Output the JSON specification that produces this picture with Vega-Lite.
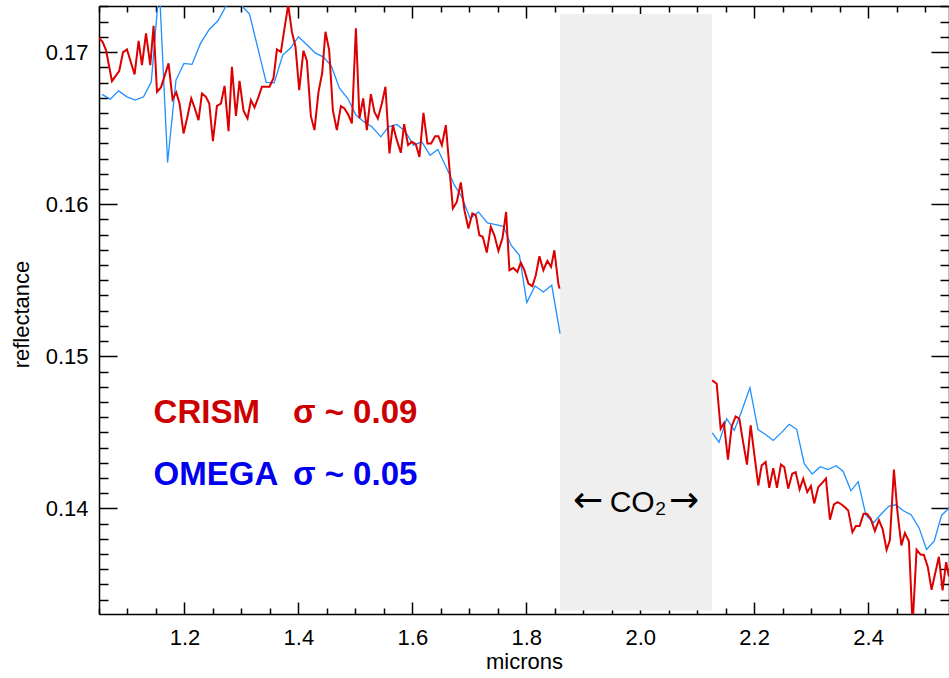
{
  "$schema": "https://vega.github.io/schema/vega-lite/v6.json",
  "width": 850,
  "height": 608,
  "autosize": {"type": "none"},
  "padding": {"left": 99, "top": 6, "right": 0, "bottom": 64},
  "background": "white",
  "config": {"view": {"stroke": null}, "axis": {"grid": false}},
  "datasets": {
    "band": [{"start": 1.859, "end": 2.126, "lo": 0.13329, "hi": 0.1725}],
    "crism1": [
      {"x":1.0495,"y":0.17094},{"x":1.0563,"y":0.17068},{"x":1.0623,"y":0.17013},{"x":1.0728,"y":0.16809},{"x":1.0856,"y":0.16877},{"x":1.0921,"y":0.16998},{"x":1.0991,"y":0.17018},{"x":1.1125,"y":0.16853},{"x":1.1195,"y":0.17074},{"x":1.1254,"y":0.16914},{"x":1.1325,"y":0.17123},{"x":1.14,"y":0.16914},{"x":1.1458,"y":0.17173},{"x":1.1518,"y":0.16739},{"x":1.1588,"y":0.16768},{"x":1.1721,"y":0.16926},{"x":1.1791,"y":0.16689},{"x":1.1856,"y":0.16735},{"x":1.1914,"y":0.16662},{"x":1.1984,"y":0.16465},{"x":1.2049,"y":0.1657},{"x":1.2119,"y":0.16695},{"x":1.2177,"y":0.16636},{"x":1.2247,"y":0.16553},{"x":1.2307,"y":0.16728},{"x":1.2377,"y":0.16706},{"x":1.2435,"y":0.16662},{"x":1.25,"y":0.16414},{"x":1.257,"y":0.16647},{"x":1.264,"y":0.16662},{"x":1.2704,"y":0.16778},{"x":1.2774,"y":0.1648},{"x":1.2833,"y":0.16903},{"x":1.2904,"y":0.16581},{"x":1.2967,"y":0.16811},{"x":1.3037,"y":0.16614},{"x":1.3107,"y":0.16564},{"x":1.3167,"y":0.16684},{"x":1.323,"y":0.16636},{"x":1.33,"y":0.16706},{"x":1.336,"y":0.16772},{"x":1.3426,"y":0.16772},{"x":1.3493,"y":0.16772},{"x":1.3563,"y":0.16829},{"x":1.3623,"y":0.17018},{"x":1.3693,"y":0.17002},{"x":1.3756,"y":0.17156},{"x":1.3821,"y":0.1731},{"x":1.3886,"y":0.17134},{"x":1.3949,"y":0.17035},{"x":1.4014,"y":0.1675},{"x":1.4089,"y":0.17009},{"x":1.4149,"y":0.16943},{"x":1.4219,"y":0.16579},{"x":1.4282,"y":0.16487},{"x":1.4353,"y":0.16739},{"x":1.4418,"y":0.16864},{"x":1.4475,"y":0.17134},{"x":1.454,"y":0.17013},{"x":1.4605,"y":0.16618},{"x":1.4675,"y":0.16487},{"x":1.4746,"y":0.16645},{"x":1.4809,"y":0.1663},{"x":1.4879,"y":0.16586},{"x":1.4939,"y":0.16531},{"x":1.5009,"y":0.17156},{"x":1.5072,"y":0.16564},{"x":1.5137,"y":0.16695},{"x":1.5202,"y":0.16487},{"x":1.5272,"y":0.16724},{"x":1.5335,"y":0.16607},{"x":1.5395,"y":0.16564},{"x":1.5465,"y":0.16662},{"x":1.5528,"y":0.16772},{"x":1.5598,"y":0.16334},{"x":1.5658,"y":0.1652},{"x":1.5728,"y":0.16421},{"x":1.5798,"y":0.16338},{"x":1.5856,"y":0.16526},{"x":1.5926,"y":0.16388},{"x":1.5991,"y":0.1641},{"x":1.6061,"y":0.16395},{"x":1.6125,"y":0.16311},{"x":1.6195,"y":0.16601},{"x":1.6265,"y":0.16399},{"x":1.633,"y":0.16399},{"x":1.64,"y":0.16447},{"x":1.6458,"y":0.16447},{"x":1.6518,"y":0.16388},{"x":1.6588,"y":0.1652},{"x":1.6711,"y":0.15972},{"x":1.6781,"y":0.16015},{"x":1.6851,"y":0.16143},{"x":1.6914,"y":0.15961},{"x":1.6984,"y":0.1584},{"x":1.7054,"y":0.15939},{"x":1.7114,"y":0.15928},{"x":1.7177,"y":0.15796},{"x":1.7237,"y":0.15785},{"x":1.7307,"y":0.15682},{"x":1.7377,"y":0.15851},{"x":1.744,"y":0.15796},{"x":1.7511,"y":0.15693},{"x":1.7581,"y":0.15774},{"x":1.7646,"y":0.15949},{"x":1.7704,"y":0.15566},{"x":1.7774,"y":0.15581},{"x":1.7844,"y":0.15555},{"x":1.7904,"y":0.15616},{"x":1.7967,"y":0.15566},{"x":1.8037,"y":0.15478},{"x":1.8107,"y":0.15461},{"x":1.8167,"y":0.15533},{"x":1.823,"y":0.15658},{"x":1.83,"y":0.15566},{"x":1.837,"y":0.15627},{"x":1.8435,"y":0.15588},{"x":1.8493,"y":0.15697},{"x":1.8563,"y":0.15478},{"x":1.8584,"y":0.15445}
    ],
    "crism2": [
      {"x":2.1265,"y":0.14842},{"x":2.1342,"y":0.1482},{"x":2.1412,"y":0.14524},{"x":2.147,"y":0.14561},{"x":2.154,"y":0.1432},{"x":2.1605,"y":0.14539},{"x":2.1675,"y":0.14605},{"x":2.1739,"y":0.1459},{"x":2.1804,"y":0.14441},{"x":2.1874,"y":0.14288},{"x":2.1939,"y":0.14546},{"x":2.2005,"y":0.14349},{"x":2.2072,"y":0.14151},{"x":2.2132,"y":0.14283},{"x":2.2202,"y":0.14305},{"x":2.2265,"y":0.14136},{"x":2.2335,"y":0.14265},{"x":2.24,"y":0.14136},{"x":2.247,"y":0.14288},{"x":2.2528,"y":0.14272},{"x":2.2598,"y":0.1413},{"x":2.2668,"y":0.14228},{"x":2.2728,"y":0.14239},{"x":2.2798,"y":0.14125},{"x":2.2861,"y":0.14195},{"x":2.2932,"y":0.14107},{"x":2.2996,"y":0.14147},{"x":2.3054,"y":0.14033},{"x":2.3125,"y":0.1414},{"x":2.3195,"y":0.14168},{"x":2.326,"y":0.14197},{"x":2.333,"y":0.13926},{"x":2.34,"y":0.14026},{"x":2.3465,"y":0.14041},{"x":2.3535,"y":0.14026},{"x":2.3593,"y":0.14007},{"x":2.3651,"y":0.13987},{"x":2.3725,"y":0.13844},{"x":2.3786,"y":0.13885},{"x":2.3851,"y":0.13885},{"x":2.3921,"y":0.13965},{"x":2.3979,"y":0.13965},{"x":2.4046,"y":0.13932},{"x":2.4119,"y":0.13852},{"x":2.419,"y":0.13923},{"x":2.4254,"y":0.13866},{"x":2.4325,"y":0.13728},{"x":2.4382,"y":0.13791},{"x":2.4453,"y":0.14255},{"x":2.4514,"y":0.1398},{"x":2.4584,"y":0.13757},{"x":2.4646,"y":0.13838},{"x":2.4716,"y":0.13784},{"x":2.4781,"y":0.1323},{"x":2.4851,"y":0.13729},{"x":2.4921,"y":0.13697},{"x":2.4979,"y":0.13694},{"x":2.5049,"y":0.13614},{"x":2.5114,"y":0.13465},{"x":2.5177,"y":0.13572},{"x":2.5242,"y":0.13682},{"x":2.5307,"y":0.13461},{"x":2.537,"y":0.13647},{"x":2.5418,"y":0.13553}
    ],
    "omega1": [
      {"x":1.0553,"y":0.16722},{"x":1.0698,"y":0.16691},{"x":1.0844,"y":0.16745},{"x":1.0991,"y":0.16706},{"x":1.1137,"y":0.16684},{"x":1.1282,"y":0.16706},{"x":1.1418,"y":0.16805},{"x":1.1558,"y":0.17434},{"x":1.1704,"y":0.16274},{"x":1.1851,"y":0.16816},{"x":1.1991,"y":0.16926},{"x":1.2132,"y":0.16919},{"x":1.2282,"y":0.17057},{"x":1.2435,"y":0.17149},{"x":1.2588,"y":0.17206},{"x":1.2739,"y":0.17309},{"x":1.2882,"y":0.17362},{"x":1.3023,"y":0.17298},{"x":1.3142,"y":0.1725},{"x":1.3435,"y":0.16801},{"x":1.3575,"y":0.16798},{"x":1.3725,"y":0.1698},{"x":1.3865,"y":0.17028},{"x":1.4002,"y":0.17101},{"x":1.4149,"y":0.17048},{"x":1.4295,"y":0.16995},{"x":1.4435,"y":0.16969},{"x":1.4575,"y":0.16911},{"x":1.4721,"y":0.16763},{"x":1.4868,"y":0.16695},{"x":1.5009,"y":0.16586},{"x":1.5154,"y":0.16541},{"x":1.529,"y":0.16509},{"x":1.5447,"y":0.16443},{"x":1.5581,"y":0.16509},{"x":1.5728,"y":0.16524},{"x":1.5874,"y":0.1648},{"x":1.6019,"y":0.16388},{"x":1.6167,"y":0.1641},{"x":1.6312,"y":0.16322},{"x":1.6447,"y":0.1636},{"x":1.6593,"y":0.16245},{"x":1.6739,"y":0.16125},{"x":1.6868,"y":0.16048},{"x":1.7014,"y":0.15906},{"x":1.716,"y":0.15949},{"x":1.7318,"y":0.15877},{"x":1.7465,"y":0.15866},{"x":1.7598,"y":0.15855},{"x":1.7733,"y":0.1573},{"x":1.7879,"y":0.15664},{"x":1.8009,"y":0.15353},{"x":1.8154,"y":0.15463},{"x":1.83,"y":0.15423},{"x":1.8447,"y":0.15467},{"x":1.8593,"y":0.15149}
    ],
    "omega2": [
      {"x":2.1265,"y":0.14497},{"x":2.1383,"y":0.14434},{"x":2.1518,"y":0.1459},{"x":2.1651,"y":0.14513},{"x":2.1791,"y":0.14651},{"x":2.1926,"y":0.14794},{"x":2.2067,"y":0.14518},{"x":2.2202,"y":0.14486},{"x":2.2335,"y":0.14447},{"x":2.2483,"y":0.145},{"x":2.2616,"y":0.14553},{"x":2.2746,"y":0.1452},{"x":2.2879,"y":0.14294},{"x":2.3019,"y":0.14226},{"x":2.316,"y":0.14274},{"x":2.3295,"y":0.14255},{"x":2.3439,"y":0.14281},{"x":2.3563,"y":0.14243},{"x":2.3698,"y":0.14116},{"x":2.3826,"y":0.14176},{"x":2.3961,"y":0.13956},{"x":2.4096,"y":0.13906},{"x":2.423,"y":0.13963},{"x":2.4368,"y":0.14016},{"x":2.4488,"y":0.14024},{"x":2.4619,"y":0.13985},{"x":2.4754,"y":0.13959},{"x":2.4895,"y":0.13872},{"x":2.5026,"y":0.1373},{"x":2.516,"y":0.13785},{"x":2.5289,"y":0.13954},{"x":2.5418,"y":0.14002}
    ],
    "labelsRed": [{"x":1.1458,"y":0.14564,"t":"CRISM"},{"x":1.3904,"y":0.14564,"t":"σ ~ 0.09"}],
    "labelsBlue": [{"x":1.1458,"y":0.14156,"t":"OMEGA"},{"x":1.3904,"y":0.14156,"t":"σ ~ 0.05"}],
    "labelsGas": [{"x":1.9961,"y":0.13976,"t":"CO₂"}],
    "arrowsGas": [{"x":1.9084,"y":0.13976,"t":"←"},{"x":2.0769,"y":0.13976,"t":"→"}]
  },
  "resolve": {"axis": {"x": "independent", "y": "independent"}},
  "layer": [
    {
      "data": {"name": "band"},
      "mark": {"type": "rect", "color": "#efefef"},
      "encoding": {
        "x": {"field": "start", "type": "quantitative",
          "scale": {"domain": [1.05, 2.542], "nice": false, "zero": false},
          "axis": {
            "orient": "bottom",
            "values": [1.05,1.1,1.15,1.2,1.25,1.3,1.35,1.4,1.45,1.5,1.55,1.6,1.65,1.7,1.75,1.8,1.85,1.9,1.95,2.0,2.05,2.1,2.15,2.2,2.25,2.3,2.35,2.4,2.45,2.5],
            "labelExpr": "abs(datum.value*5-round(datum.value*5))<0.001 ? format(datum.value,'.1f') : ''",
            "tickSize": {"condition": {"test": "abs(datum.value*5-round(datum.value*5))<0.001", "value": -12}, "value": -6},
            "tickColor": "black", "tickWidth": 1.5,
            "domainColor": "black", "domainWidth": 1.5,
            "labelFont": "Liberation Sans", "labelFontSize": 22, "labelColor": "black",
            "labelPadding": 25, "labelFlush": false, "labelOverlap": false, "labelBound": false,
            "title": "microns", "titleFont": "Liberation Sans", "titleFontSize": 22,
            "titleFontWeight": "normal", "titleColor": "black",
            "titleY": 54, "titleBaseline": "alphabetic"
          }
        },
        "x2": {"field": "end"},
        "y": {"field": "lo", "type": "quantitative",
          "scale": {"domain": [0.13306, 0.17303], "nice": false, "zero": false},
          "axis": {
            "orient": "left",
            "values": [0.134,0.135,0.136,0.137,0.138,0.139,0.14,0.141,0.142,0.143,0.144,0.145,0.146,0.147,0.148,0.149,0.15,0.151,0.152,0.153,0.154,0.155,0.156,0.157,0.158,0.159,0.16,0.161,0.162,0.163,0.164,0.165,0.166,0.167,0.168,0.169,0.17,0.171,0.172,0.173],
            "labelExpr": "abs(datum.value*100-round(datum.value*100))<0.01 ? format(datum.value,'.2f') : ''",
            "tickSize": {"condition": {"test": "abs(datum.value*100-round(datum.value*100))<0.01", "value": -18}, "value": -9},
            "tickColor": "black", "tickWidth": 1.5,
            "domainColor": "black", "domainWidth": 1.5,
            "labelFont": "Liberation Sans", "labelFontSize": 22, "labelColor": "black",
            "labelPadding": 29, "labelFlush": false, "labelOverlap": false, "labelBound": false,
            "title": "reflectance", "titleFont": "Liberation Sans", "titleFontSize": 22,
            "titleFontWeight": "normal", "titleColor": "black",
            "titleX": -71, "titleY": 308, "titleAngle": -90, "titleAlign": "center", "titleBaseline": "alphabetic"
          }
        },
        "y2": {"field": "hi"}
      }
    },
    {
      "data": {"name": "omega1"},
      "mark": {"type": "line", "color": "#1e90ff", "strokeWidth": 1.3, "clip": true},
      "encoding": {
        "x": {"field": "x", "type": "quantitative",
          "scale": {"domain": [1.05, 2.542], "nice": false, "zero": false},
          "axis": {
            "orient": "top",
            "values": [1.05,1.1,1.15,1.2,1.25,1.3,1.35,1.4,1.45,1.5,1.55,1.6,1.65,1.7,1.75,1.8,1.85,1.9,1.95,2.0,2.05,2.1,2.15,2.2,2.25,2.3,2.35,2.4,2.45,2.5],
            "labels": false,
            "tickSize": {"condition": {"test": "abs(datum.value*5-round(datum.value*5))<0.001", "value": -12}, "value": -6},
            "tickColor": "black", "tickWidth": 1.5,
            "domainColor": "black", "domainWidth": 1.5,
            "title": null
          }
        },
        "y": {"field": "y", "type": "quantitative",
          "scale": {"domain": [0.13306, 0.17303], "nice": false, "zero": false},
          "axis": {
            "orient": "right",
            "values": [0.134,0.135,0.136,0.137,0.138,0.139,0.14,0.141,0.142,0.143,0.144,0.145,0.146,0.147,0.148,0.149,0.15,0.151,0.152,0.153,0.154,0.155,0.156,0.157,0.158,0.159,0.16,0.161,0.162,0.163,0.164,0.165,0.166,0.167,0.168,0.169,0.17,0.171,0.172,0.173],
            "labels": false,
            "tickSize": {"condition": {"test": "abs(datum.value*100-round(datum.value*100))<0.01", "value": -18}, "value": -9},
            "tickColor": "black", "tickWidth": 1.5,
            "domainColor": "black", "domainWidth": 1.5,
            "title": null
          }
        }
      }
    },
    {
      "data": {"name": "omega2"},
      "mark": {"type": "line", "color": "#1e90ff", "strokeWidth": 1.3, "clip": true},
      "encoding": {
        "x": {"field": "x", "type": "quantitative", "scale": {"domain": [1.05, 2.542], "nice": false, "zero": false}, "axis": null},
        "y": {"field": "y", "type": "quantitative", "scale": {"domain": [0.13306, 0.17303], "nice": false, "zero": false}, "axis": null}
      }
    },
    {
      "data": {"name": "crism1"},
      "mark": {"type": "line", "color": "#dc0000", "strokeWidth": 2, "clip": true},
      "encoding": {
        "x": {"field": "x", "type": "quantitative", "scale": {"domain": [1.05, 2.542], "nice": false, "zero": false}, "axis": null},
        "y": {"field": "y", "type": "quantitative", "scale": {"domain": [0.13306, 0.17303], "nice": false, "zero": false}, "axis": null}
      }
    },
    {
      "data": {"name": "crism2"},
      "mark": {"type": "line", "color": "#dc0000", "strokeWidth": 2, "clip": true},
      "encoding": {
        "x": {"field": "x", "type": "quantitative", "scale": {"domain": [1.05, 2.542], "nice": false, "zero": false}, "axis": null},
        "y": {"field": "y", "type": "quantitative", "scale": {"domain": [0.13306, 0.17303], "nice": false, "zero": false}, "axis": null}
      }
    },
    {
      "data": {"name": "labelsRed"},
      "mark": {"type": "text", "color": "#cc0000", "font": "Liberation Sans", "fontWeight": "bold", "fontSize": 33, "align": "left", "baseline": "alphabetic"},
      "encoding": {
        "x": {"field": "x", "type": "quantitative", "axis": null},
        "y": {"field": "y", "type": "quantitative", "axis": null},
        "text": {"field": "t"}
      }
    },
    {
      "data": {"name": "labelsBlue"},
      "mark": {"type": "text", "color": "#0000ee", "font": "Liberation Sans", "fontWeight": "bold", "fontSize": 33, "align": "left", "baseline": "alphabetic"},
      "encoding": {
        "x": {"field": "x", "type": "quantitative", "axis": null},
        "y": {"field": "y", "type": "quantitative", "axis": null},
        "text": {"field": "t"}
      }
    },
    {
      "data": {"name": "labelsGas"},
      "mark": {"type": "text", "color": "black", "font": "Liberation Sans", "fontSize": 30, "align": "center", "baseline": "alphabetic"},
      "encoding": {
        "x": {"field": "x", "type": "quantitative", "axis": null},
        "y": {"field": "y", "type": "quantitative", "axis": null},
        "text": {"field": "t"}
      }
    },
    {
      "data": {"name": "arrowsGas"},
      "mark": {"type": "text", "color": "black", "font": "DejaVu Sans", "fontSize": 36, "align": "center", "baseline": "alphabetic"},
      "encoding": {
        "x": {"field": "x", "type": "quantitative", "axis": null},
        "y": {"field": "y", "type": "quantitative", "axis": null},
        "text": {"field": "t"}
      }
    }
  ]
}
